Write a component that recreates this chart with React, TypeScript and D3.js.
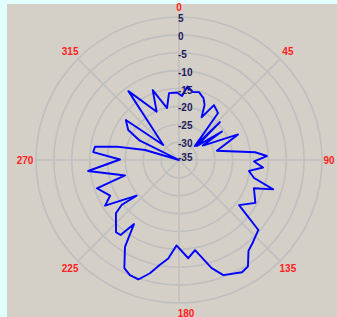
import React, { useEffect, useRef } from "react";
import * as d3 from "d3";

// Measured pattern: angle in degrees (0 = top, clockwise) and level in dB
const angles = [
  2.7, 6.6, 11.6, 16.4, 21.6, 24.9, 27.9, 32.5, 39.7, 48.8, 47.2, 52.1, 56.5,
  58.9, 66.6, 76.2, 84.2, 87.4, 91.1, 95.1, 98.9, 103.5, 107.3, 110.7, 119.3,
  126.9, 131.4, 137.9, 142.6, 147.1, 150.7, 158.9, 163.2, 169.9, 174.6, 181.7,
  186.2, 190.3, 194.4, 198.8, 203.1, 206.8, 211.9, 215.1, 217.9, 221.1, 229.8,
  231.9, 230.0, 238.3, 242.6, 251.0, 254.0, 263.1, 270.5, 275.3, 279.0, 282.1,
  286.4, 295.0, 296.3, 300.6, 306.9, 313.7, 323.7, 335.2, 339.4, 347.0, 351.5,
  358.3,
];
const levels = [
  -17.1, -14.3, -15.6, -15.2, -16.4, -18.0, -21.5, -16.8, -17.9, -29.1, -19.4,
  -28.6, -20.6, -27.2, -17.0, -24.1, -13.6, -10.4, -14.0, -11.4, -15.2, -13.4,
  -7.4, -12.6, -10.5, -14.0, -5.4, -4.1, -3.0, 0.5, 1.0, -0.5, -3.4, -9.4,
  -7.4, -11.1, -7.3, -5.2, -2.3, 0.3, 0.0, -1.1, -6.4, -13.1, -8.4, -8.2,
  -11.9, -14.6, -19.5, -10.7, -13.3, -10.7, -19.3, -9.4, -18.5, -10.9, -11.2,
  -17.2, -25.1, -35, -22.8, -18.5, -16.4, -28.9, -11.1, -20.1, -14.1, -20.1,
  -16.1, -16.1,
];

const ringValues = [5, 0, -5, -10, -15, -20, -25, -30, -35];
const angleTicks = [0, 45, 90, 135, 180, 225, 270, 315];

const PolarChart = () => {
  const ref = useRef<SVGSVGElement>(null);

  useEffect(() => {
    const width = 337;
    const height = 317;
    const cx = 179;
    const cy = 160;
    const R = 143;

    const svg = d3.select(ref.current);
    svg.selectAll("*").remove();

    // page frame + grey panel
    svg.append("rect").attr("width", width).attr("height", height).attr("fill", "#e1ffff");
    svg
      .append("rect")
      .attr("x", 7)
      .attr("y", 4)
      .attr("width", width - 7)
      .attr("height", height - 4)
      .attr("fill", "#d4d0c8");

    const r = d3.scaleLinear().domain([-35, 5]).range([0, R]).clamp(true);
    const a = d3.scaleLinear().domain([0, 360]).range([0, 2 * Math.PI]);

    const g = svg.append("g").attr("transform", `translate(${cx},${cy})`);

    // rings
    g.selectAll(".ring")
      .data(ringValues.filter((v) => v > -35))
      .enter()
      .append("circle")
      .attr("r", (d) => r(d))
      .attr("fill", "none")
      .attr("stroke", "#bfbfbf")
      .attr("stroke-width", 1.6);

    // spokes
    g.selectAll(".spoke")
      .data(angleTicks)
      .enter()
      .append("line")
      .attr("x1", 0)
      .attr("y1", 0)
      .attr("x2", (d) => R * Math.sin(a(d)))
      .attr("y2", (d) => -R * Math.cos(a(d)))
      .attr("stroke", "#bfbfbf")
      .attr("stroke-width", 1.6);

    // pattern line
    const pts: [number, number][] = angles.map((d, i) => [a(d), r(levels[i])]);
    const line = d3.lineRadial<[number, number]>().curve(d3.curveLinearClosed);
    g.append("path")
      .attr("d", line(pts))
      .attr("fill", "none")
      .attr("stroke", "#0000ff")
      .attr("stroke-width", 1.9)
      .attr("stroke-linejoin", "round");

    // ring labels
    g.selectAll(".rlabel")
      .data(ringValues)
      .enter()
      .append("text")
      .attr("x", -1)
      .attr("y", (d) => Math.min(-r(d) + 1.5, -3))
      .attr("dy", "0.35em")
      .attr("font-family", "Liberation Sans, Arial, sans-serif")
      .attr("font-size", "10px")
      .attr("font-weight", "bold")
      .attr("fill", "#1c1c5c")
      .text((d) => d);

    // angle labels (kept inside the panel)
    g.selectAll(".alabel")
      .data(angleTicks)
      .enter()
      .append("text")
      .attr("x", (d) =>
        Math.min(154 * Math.sin(a(d)) + (d === 180 ? 7 : 0), width - cx - 8)
      )
      .attr("y", (d) => -153 * Math.cos(a(d)))
      .attr("dy", "0.35em")
      .attr("text-anchor", "middle")
      .attr("font-family", "Liberation Sans, Arial, sans-serif")
      .attr("font-size", "10px")
      .attr("font-weight", "bold")
      .attr("fill", "#ff2020")
      .text((d) => d);
  }, []);

  return <svg ref={ref} width={337} height={317} style={{ display: "block" }} />;
};

const App = () => (
  <div style={{ position: "absolute", left: 0, top: 0 }}>
    <PolarChart />
  </div>
);

export default App;
